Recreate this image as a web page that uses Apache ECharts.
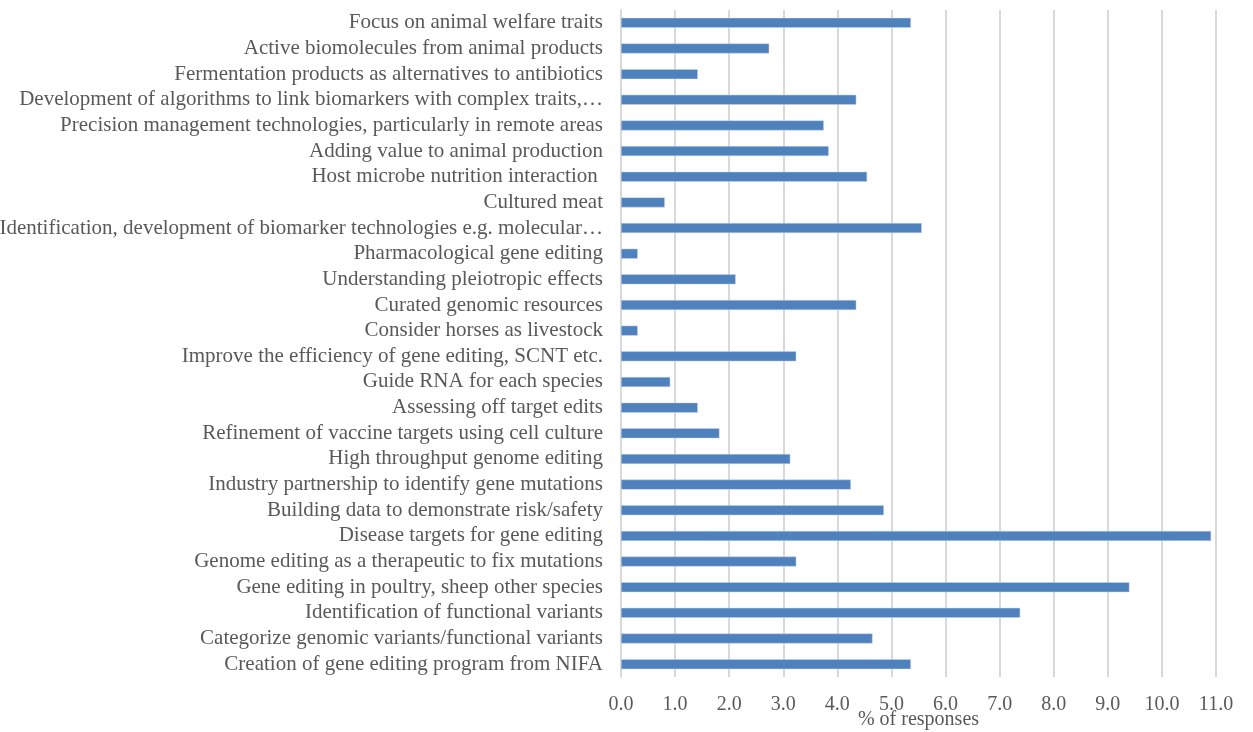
<!DOCTYPE html>
<html>
<head>
<meta charset="utf-8">
<script src="https://cdn.jsdelivr.net/npm/echarts@6/dist/echarts.min.js"></script>
<style>html,body{margin:0;padding:0;background:#fff;}#c{width:1253px;height:732px;}</style>
</head>
<body>
<div id="c"></div>
<script>
const categories = [
  "Focus on animal welfare traits",
  "Active biomolecules from animal products",
  "Fermentation products as alternatives to antibiotics",
  "Development of algorithms to link biomarkers with complex traits,…",
  "Precision management technologies, particularly in remote areas",
  "Adding value to animal production",
  "Host microbe nutrition interaction ",
  "Cultured meat",
  "Identification, development of biomarker technologies e.g. molecular…",
  "Pharmacological gene editing",
  "Understanding pleiotropic effects",
  "Curated genomic resources",
  "Consider horses as livestock",
  "Improve the efficiency of gene editing, SCNT etc.",
  "Guide RNA for each species",
  "Assessing off target edits",
  "Refinement of vaccine targets using cell culture",
  "High throughput genome editing",
  "Industry partnership to identify gene mutations",
  "Building data to demonstrate risk/safety",
  "Disease targets for gene editing",
  "Genome editing as a therapeutic to fix mutations",
  "Gene editing in poultry, sheep other species",
  "Identification of functional variants",
  "Categorize genomic variants/functional variants",
  "Creation of gene editing program from NIFA"
];
const responses = [
  5.36, 2.74, 1.42, 4.35, 3.75, 3.84, 4.55, 0.81, 5.56, 0.31,
  2.12, 4.35, 0.31, 3.24, 0.91, 1.42, 1.82, 3.13, 4.25, 4.86,
  10.91, 3.24, 9.40, 7.38, 4.65, 5.36
];
const xTicks = ["0.0","1.0","2.0","3.0","4.0","5.0","6.0","7.0","8.0","9.0","10.0","11.0"];

const font = "'Liberation Serif', 'Times New Roman', serif";
const chart = echarts.init(document.getElementById('c'), null, {renderer: 'canvas'});
chart.setOption({
  animation: false,
  backgroundColor: '#ffffff',
  grid: {left: 621, right: 37, top: 10, bottom: 55, containLabel: false, outerBoundsMode: 'none'},
  xAxis: {
    type: 'value', min: 0, max: 11, interval: 1,
    name: '% of responses', nameLocation: 'middle', nameGap: 33, nameMoveOverlap: false,
    nameTextStyle: {fontFamily: font, fontSize: 20, color: '#595959', verticalAlign: 'top'},
    axisLine: {show: false}, axisTick: {show: false},
    axisLabel: {fontFamily: font, fontSize: 20, color: '#595959', margin: 18,
      formatter: v => xTicks[Math.round(v)]},
    splitLine: {show: true, lineStyle: {color: '#d9d9d9', width: 2}}
  },
  yAxis: {
    type: 'category', data: categories, inverse: true,
    axisLine: {show: true, lineStyle: {color: '#d9d9d9', width: 2}},
    axisTick: {show: false},
    axisLabel: {fontFamily: font, fontSize: 21, color: '#595959', margin: 18, interval: 0}
  },
  series: [{
    type: 'bar', data: responses, barWidth: 10,
    itemStyle: {color: '#4f81bd', borderColor: '#c6d5ea', borderWidth: 0.5}
  }]
});
</script>
</body>
</html>
